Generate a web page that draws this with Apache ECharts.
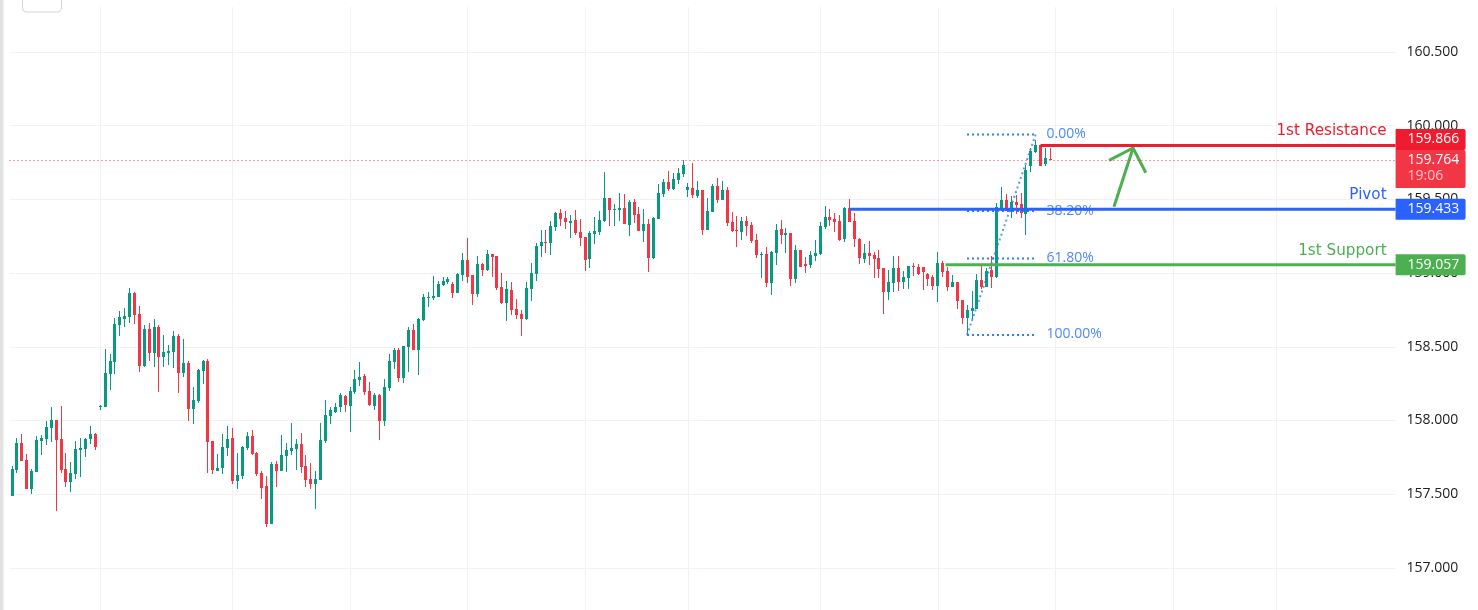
<!DOCTYPE html>
<html>
<head>
<meta charset="utf-8">
<title>USDJPY levels</title>
<script src="https://cdn.jsdelivr.net/npm/echarts@6/dist/echarts.min.js"></script>
<style>
html, body { margin: 0; padding: 0; background: #fff; }
#chart { width: 1478px; height: 610px; }
</style>
</head>
<body>
<div id="chart"></div>
<script>
var opens = [
  157.488,157.664,157.847,157.732,157.535,157.651,157.861,157.874,157.949,158.003,
  157.874,157.671,157.583,157.637,157.800,157.807,157.874,157.908,158.092,158.092,
  158.315,158.397,158.648,158.689,158.702,158.865,158.722,158.370,158.621,158.458,
  158.634,158.431,158.458,158.465,158.573,158.322,158.390,158.078,158.132,158.336,
  158.404,157.861,157.657,157.678,157.813,157.881,157.590,157.623,157.813,157.895,
  157.780,157.644,157.556,157.298,157.705,157.657,157.759,157.793,157.807,157.841,
  157.691,157.603,157.569,157.596,157.861,158.031,158.058,158.092,158.166,158.098,
  158.193,158.275,158.302,158.200,158.098,158.173,157.996,158.220,158.397,158.478,
  158.288,158.499,158.614,158.478,158.682,158.831,158.831,158.838,158.919,158.939,
  158.926,158.865,158.987,159.089,158.987,158.858,159.062,159.021,159.129,159.116,
  158.906,158.797,158.885,158.756,158.722,158.688,158.892,158.994,159.184,159.211,
  159.204,159.313,159.408,159.374,159.340,159.360,159.279,159.245,159.096,159.265,
  159.279,159.353,159.509,159.428,159.428,159.442,159.326,159.482,159.401,159.285,
  159.333,159.102,159.367,159.536,159.618,159.570,159.631,159.672,159.564,159.577,
  159.523,159.564,159.292,159.414,159.591,159.496,159.564,159.347,159.292,159.279,
  159.353,159.326,159.224,159.123,159.129,158.933,159.136,159.299,159.258,159.272,
  158.960,159.157,159.062,159.055,159.116,159.129,159.313,159.380,159.367,159.353,
  159.231,159.442,159.353,159.231,159.096,159.136,159.123,159.102,159.034,158.872,
  158.933,159.034,158.939,158.967,159.048,159.041,159.041,158.994,158.973,158.912,
  159.068,159.014,158.906,158.939,158.817,158.695,158.743,158.756,158.953,158.906,
  159.021,158.973,159.442,159.496,159.415,159.483,159.469,159.401,159.727,159.822,
  159.869,159.740,159.774
];
var closes = [
  157.671,157.847,157.725,157.535,157.657,157.868,157.881,157.956,158.003,157.868,
  157.664,157.583,157.644,157.807,157.813,157.874,157.908,157.820,158.098,158.322,
  158.404,158.655,158.702,158.709,158.865,158.716,158.370,158.621,158.458,158.634,
  158.431,158.465,158.471,158.573,158.322,158.390,158.078,158.139,158.343,158.404,
  157.854,157.664,157.678,157.820,157.874,157.590,157.630,157.820,157.895,157.773,
  157.637,157.542,157.298,157.705,157.657,157.766,157.800,157.813,157.841,157.685,
  157.596,157.569,157.603,157.868,158.037,158.071,158.092,158.173,158.105,158.200,
  158.281,158.295,158.193,158.105,158.173,157.996,158.227,158.404,158.478,158.288,
  158.505,158.614,158.478,158.688,158.838,158.838,158.845,158.926,158.946,158.960,
  158.865,158.994,159.089,158.973,158.858,159.062,159.021,159.129,159.109,158.899,
  158.797,158.892,158.750,158.716,158.688,158.899,159.001,159.184,159.211,159.204,
  159.319,159.408,159.367,159.347,159.353,159.272,159.238,159.089,159.272,159.285,
  159.360,159.509,159.428,159.435,159.442,159.333,159.482,159.394,159.285,159.333,
  159.102,159.374,159.543,159.618,159.570,159.638,159.679,159.733,159.584,159.530,
  159.564,159.292,159.421,159.591,159.496,159.564,159.340,159.285,159.285,159.353,
  159.319,159.218,159.123,159.129,158.933,159.143,159.292,159.258,159.272,158.960,
  159.157,159.041,159.048,159.123,159.136,159.319,159.380,159.360,159.347,159.224,
  159.442,159.347,159.231,159.102,159.136,159.116,159.096,159.028,158.872,158.939,
  159.034,158.939,158.973,159.048,159.041,158.994,159.007,158.960,158.912,159.068,
  159.007,158.906,158.939,158.811,158.695,158.750,158.763,158.953,158.906,159.014,
  158.973,159.448,159.496,159.422,159.483,159.462,159.408,159.700,159.829,159.869,
  159.727,159.781,159.764
];
var lows = [
  157.488,157.644,157.725,157.535,157.501,157.651,157.766,157.834,157.854,157.386,
  157.644,157.549,157.515,157.603,157.617,157.752,157.841,157.800,158.071,158.092,
  158.207,158.315,158.573,158.634,158.661,158.655,158.329,158.363,158.404,158.363,
  158.193,158.363,158.377,158.356,158.187,158.295,157.997,157.976,158.119,158.248,
  157.644,157.637,157.657,157.637,157.759,157.569,157.535,157.603,157.800,157.766,
  157.623,157.467,157.277,157.298,157.549,157.657,157.651,157.766,157.664,157.644,
  157.549,157.535,157.400,157.596,157.847,157.976,158.051,158.058,158.058,157.922,
  158.180,158.234,158.173,158.098,158.071,157.868,157.963,158.200,158.349,158.261,
  158.254,158.329,158.478,158.309,158.675,158.770,158.817,158.838,158.912,158.926,
  158.831,158.865,158.946,158.933,158.783,158.838,158.980,159.014,158.973,158.885,
  158.790,158.675,158.716,158.688,158.573,158.682,158.811,158.946,159.109,159.136,
  159.123,159.285,159.319,159.299,159.238,159.258,159.184,159.014,159.034,159.197,
  159.258,159.347,159.319,159.319,159.353,159.333,159.252,159.340,159.285,159.211,
  159.007,159.096,159.367,159.516,159.557,159.564,159.604,159.652,159.516,159.509,
  159.509,159.258,159.292,159.414,159.475,159.496,159.319,159.279,159.177,159.224,
  159.252,159.204,159.102,158.967,158.906,158.851,159.055,159.197,159.136,158.912,
  158.933,159.041,159.001,159.034,159.082,159.123,159.299,159.319,159.279,159.218,
  159.211,159.347,159.177,159.062,159.068,159.055,158.967,158.967,158.722,158.817,
  158.872,158.878,158.892,158.892,158.980,158.987,158.885,158.912,158.885,158.804,
  158.973,158.878,158.906,158.756,158.655,158.580,158.688,158.756,158.892,158.906,
  158.899,158.967,159.422,159.422,159.374,159.401,159.374,159.259,159.686,159.815,
  159.727,159.727,159.764
];
var highs = [
  157.691,157.881,157.908,157.773,157.671,157.895,157.902,157.997,158.092,158.003,
  158.098,157.780,157.718,157.861,157.881,157.881,157.963,157.915,158.105,158.485,
  158.451,158.695,158.743,158.763,158.899,158.872,158.777,158.648,158.661,158.689,
  158.648,158.580,158.512,158.607,158.587,158.553,158.404,158.227,158.349,158.410,
  158.417,157.861,157.773,157.908,157.963,157.949,157.780,157.827,157.922,157.936,
  157.786,157.657,157.623,157.718,157.725,157.902,157.847,157.983,157.874,157.915,
  157.766,157.712,157.657,157.983,158.139,158.092,158.119,158.187,158.173,158.227,
  158.342,158.397,158.315,158.261,158.186,158.180,158.281,158.451,158.492,158.492,
  158.505,158.634,158.655,158.695,158.858,158.872,158.980,158.946,158.973,158.973,
  158.939,159.001,159.136,159.238,158.987,159.116,159.068,159.157,159.129,159.116,
  159.001,158.946,158.939,158.824,158.750,158.939,159.068,159.204,159.292,159.292,
  159.353,159.414,159.435,159.421,159.394,159.428,159.367,159.245,159.285,159.380,
  159.421,159.686,159.509,159.469,159.543,159.536,159.496,159.503,159.448,159.435,
  159.367,159.380,159.604,159.638,159.693,159.679,159.713,159.767,159.611,159.747,
  159.625,159.564,159.509,159.604,159.645,159.625,159.584,159.414,159.387,159.380,
  159.387,159.347,159.265,159.143,159.177,159.150,159.333,159.360,159.306,159.272,
  159.191,159.157,159.109,159.150,159.224,159.347,159.455,159.435,159.408,159.394,
  159.448,159.503,159.408,159.238,159.197,159.218,159.143,159.157,159.034,159.021,
  159.116,159.116,159.014,159.048,159.068,159.062,159.041,159.001,158.987,159.143,
  159.082,159.041,158.987,158.939,158.817,158.783,158.878,158.994,159.055,159.034,
  159.116,159.475,159.584,159.537,159.523,159.530,159.544,159.734,159.849,159.903,
  159.869,159.849,159.849
];

// bars on the time axis, the last ones are still empty
var barCount = 283;
var gridBars = [18, 45, 69, 93, 117, 138, 165, 189, 213, 237, 258];

var levelNames = ['1st Resistance', 'Pivot', '1st Support'];
var levelPrices = [159.866, 159.433, 159.057];
var levelStarts = [210, 171, 190.6];

var lastPrice = 159.764;
var countdown = '19:06';

var fibPercents = [0, 38.2, 61.8, 100];
var fibHigh = 159.94;
var fibLow = 158.58;
var fibStartBar = 195;
var fibEndBar = 209;

var arrowBars = [224, 228.9, 231.5];
var arrowPrices = [159.765, 159.849, 159.681];
var arrowTailBar = 225;
var arrowTailPrice = 159.45;

var FONT = '"Open Sans", "Noto Sans", sans-serif';
var NOTE_FONT = '"DejaVu Sans", sans-serif';
var UP = '#089981';
var DOWN = '#f23645';
var levelColors = ['#ee1c2e', '#2962ff', '#4caf50'];
var FIB_COLOR = '#2f7df6';

var candles = opens.map(function(o, i) {
  return [i, o, closes[i], lows[i], highs[i]];
});

// echarts' own candlestick rounds bodies to 2 or 3px at this width, so
// draw them here to keep a 3px body and 1px wick on every bar
function renderCandle(params, api) {
  var i = api.value(0);
  var o = api.coord([i, api.value(1)]);
  var c = api.coord([i, api.value(2)]);
  var l = api.coord([i, api.value(3)]);
  var h = api.coord([i, api.value(4)]);
  var x = Math.floor(o[0] + 0.1);
  var top = Math.round(Math.min(o[1], c[1]));
  var bottom = Math.round(Math.max(o[1], c[1]));
  var yHigh = Math.round(h[1]);
  var yLow = Math.round(l[1]);
  var col = api.value(2) >= api.value(1) ? UP : DOWN;
  return {
    type: 'group',
    children: [{
      type: 'rect',
      shape: { x: x, y: yHigh, width: 1, height: Math.max(yLow - yHigh, 1) },
      style: { fill: col }
    }, {
      type: 'rect',
      shape: { x: x - 1, y: top, width: 3, height: Math.max(bottom - top, 1) },
      style: { fill: col }
    }]
  };
}

function renderGrid(params, api) {
  var x = Math.round(api.coord([api.value(0), 160])[0]) + 0.5;
  return {
    type: 'line',
    shape: { x1: x, y1: 7, x2: x, y2: 610 },
    style: { stroke: '#f2f2f3', lineWidth: 1 }
  };
}

function renderFib(params, api) {
  var p = api.value(1);
  var a = api.coord([fibStartBar, p]);
  var c = api.coord([fibEndBar, p]);
  return {
    type: 'group',
    children: [{
      type: 'line',
      shape: { x1: a[0], y1: a[1], x2: c[0], y2: c[1] },
      style: { stroke: FIB_COLOR, lineWidth: 2, lineDash: [2, 3] }
    }, {
      type: 'text',
      style: {
        text: api.value(0).toFixed(2) + '%',
        x: c[0] + 11, y: a[1] - 0.5,
        fill: '#4d8af0', font: '14px ' + FONT,
        textAlign: 'left', textVerticalAlign: 'middle'
      }
    }]
  };
}

function renderTrend(params, api) {
  var a = api.coord([fibStartBar, fibLow]);
  var c = api.coord([fibEndBar, fibHigh]);
  return {
    type: 'line',
    shape: { x1: a[0], y1: a[1], x2: c[0], y2: c[1] },
    style: { stroke: FIB_COLOR, lineWidth: 2, lineDash: [2, 3], opacity: 0.8 }
  };
}

function renderLevel(params, api) {
  var i = params.dataIndex;
  var cs = params.coordSys;
  var right = cs.x + cs.width;
  var pt = api.coord([api.value(0), api.value(1)]);
  var col = levelColors[i];
  // the resistance tag is pushed up so the last price tag stays readable
  var tagY = i === 0 ? pt[1] - 6 : pt[1];
  return {
    type: 'group',
    children: [{
      type: 'rect',
      shape: { x: pt[0], y: pt[1] - 1.5, width: right - pt[0], height: 3 },
      style: { fill: col }
    }, {
      type: 'text',
      style: {
        text: levelNames[i], x: right - 9, y: pt[1] - 14,
        fill: col, font: '15.2px ' + NOTE_FONT,
        textAlign: 'right', textVerticalAlign: 'middle'
      }
    }, {
      type: 'rect',
      shape: { x: right, y: tagY - 10.5, width: 70, height: 21, r: [0, 2, 2, 0] },
      style: { fill: col }
    }, {
      type: 'text',
      style: {
        text: api.value(1).toFixed(3), x: right + 12, y: tagY,
        fill: '#fff', font: '500 14px ' + FONT,
        textAlign: 'left', textVerticalAlign: 'middle'
      }
    }]
  };
}

function renderLast(params, api) {
  var cs = params.coordSys;
  var right = cs.x + cs.width;
  var y = api.coord([0, api.value(1)])[1];
  return {
    type: 'group',
    children: [{
      type: 'line',
      shape: { x1: cs.x, y1: y, x2: right, y2: y },
      style: { stroke: DOWN, lineWidth: 1, lineDash: [1, 3] }
    }, {
      type: 'rect',
      shape: { x: right, y: y - 10.5, width: 70, height: 38, r: [0, 2, 2, 0] },
      style: { fill: DOWN }
    }, {
      type: 'text',
      style: {
        text: api.value(1).toFixed(3), x: right + 12, y: y,
        fill: '#fff', font: '500 14px ' + FONT,
        textAlign: 'left', textVerticalAlign: 'middle'
      }
    }, {
      type: 'text',
      style: {
        text: countdown, x: right + 12, y: y + 16,
        fill: '#fbc4ca', font: '500 14px ' + FONT,
        textAlign: 'left', textVerticalAlign: 'middle'
      }
    }]
  };
}

function renderArrow(params, api) {
  var head = arrowBars.map(function(bar, i) {
    return api.coord([bar, arrowPrices[i]]);
  });
  var tail = api.coord([arrowTailBar, arrowTailPrice]);
  var st = { stroke: levelColors[2], lineWidth: 3, fill: null };
  return {
    type: 'group',
    children: [
      { type: 'polyline', shape: { points: head }, style: st },
      { type: 'polyline', shape: { points: [tail, head[1]] }, style: st }
    ]
  };
}

function drawing(z, data, fn) {
  return {
    type: 'custom',
    z: z,
    silent: true,
    clip: false,
    encode: { x: 0, y: 1 },
    data: data,
    renderItem: fn
  };
}

var ec = echarts.init(document.getElementById('chart'));
ec.setOption({
  animation: false,
  backgroundColor: '#fff',
  grid: { left: 9.5, top: -21.7, width: 1386.1, height: 663.3, outerBoundsMode: 'none' },
  xAxis: {
    type: 'value',
    show: false,
    min: -0.5,
    max: barCount - 0.5,
    splitLine: { show: false }
  },
  yAxis: {
    type: 'value',
    position: 'right',
    min: 156.5,
    max: 161,
    interval: 0.5,
    axisLine: { show: false },
    axisTick: { show: false },
    axisLabel: {
      margin: 11,
      color: '#222',
      fontFamily: FONT,
      fontSize: 14,
      formatter: function(v) { return v.toFixed(3); }
    },
    splitLine: { lineStyle: { color: '#f2f2f3', width: 1 } }
  },
  series: [
    drawing(1, gridBars.map(function(bar) { return [bar, 160]; }), renderGrid),
    drawing(2, candles, renderCandle),
    drawing(3, fibPercents.map(function(pct) {
      return [pct, fibLow + (fibHigh - fibLow) * (1 - pct / 100)];
    }), renderFib),
    drawing(3, [[fibStartBar, fibLow]], renderTrend),
    drawing(4, [[arrowBars[1], arrowPrices[1]]], renderArrow),
    drawing(5, [[opens.length - 1, lastPrice]], renderLast),
    drawing(6, levelPrices.map(function(p, i) { return [levelStarts[i], p]; }), renderLevel)
  ],
  graphic: [
    { type: 'rect', z: 10, shape: { x: 0, y: 0, width: 3.5, height: 610 }, style: { fill: '#e3e3e3' } },
    { type: 'rect', z: 10, shape: { x: 22.5, y: -6, width: 39, height: 18, r: 4 }, style: { fill: '#fff', stroke: '#d6d6d6', lineWidth: 1 } }
  ]
});
</script>
</body>
</html>
